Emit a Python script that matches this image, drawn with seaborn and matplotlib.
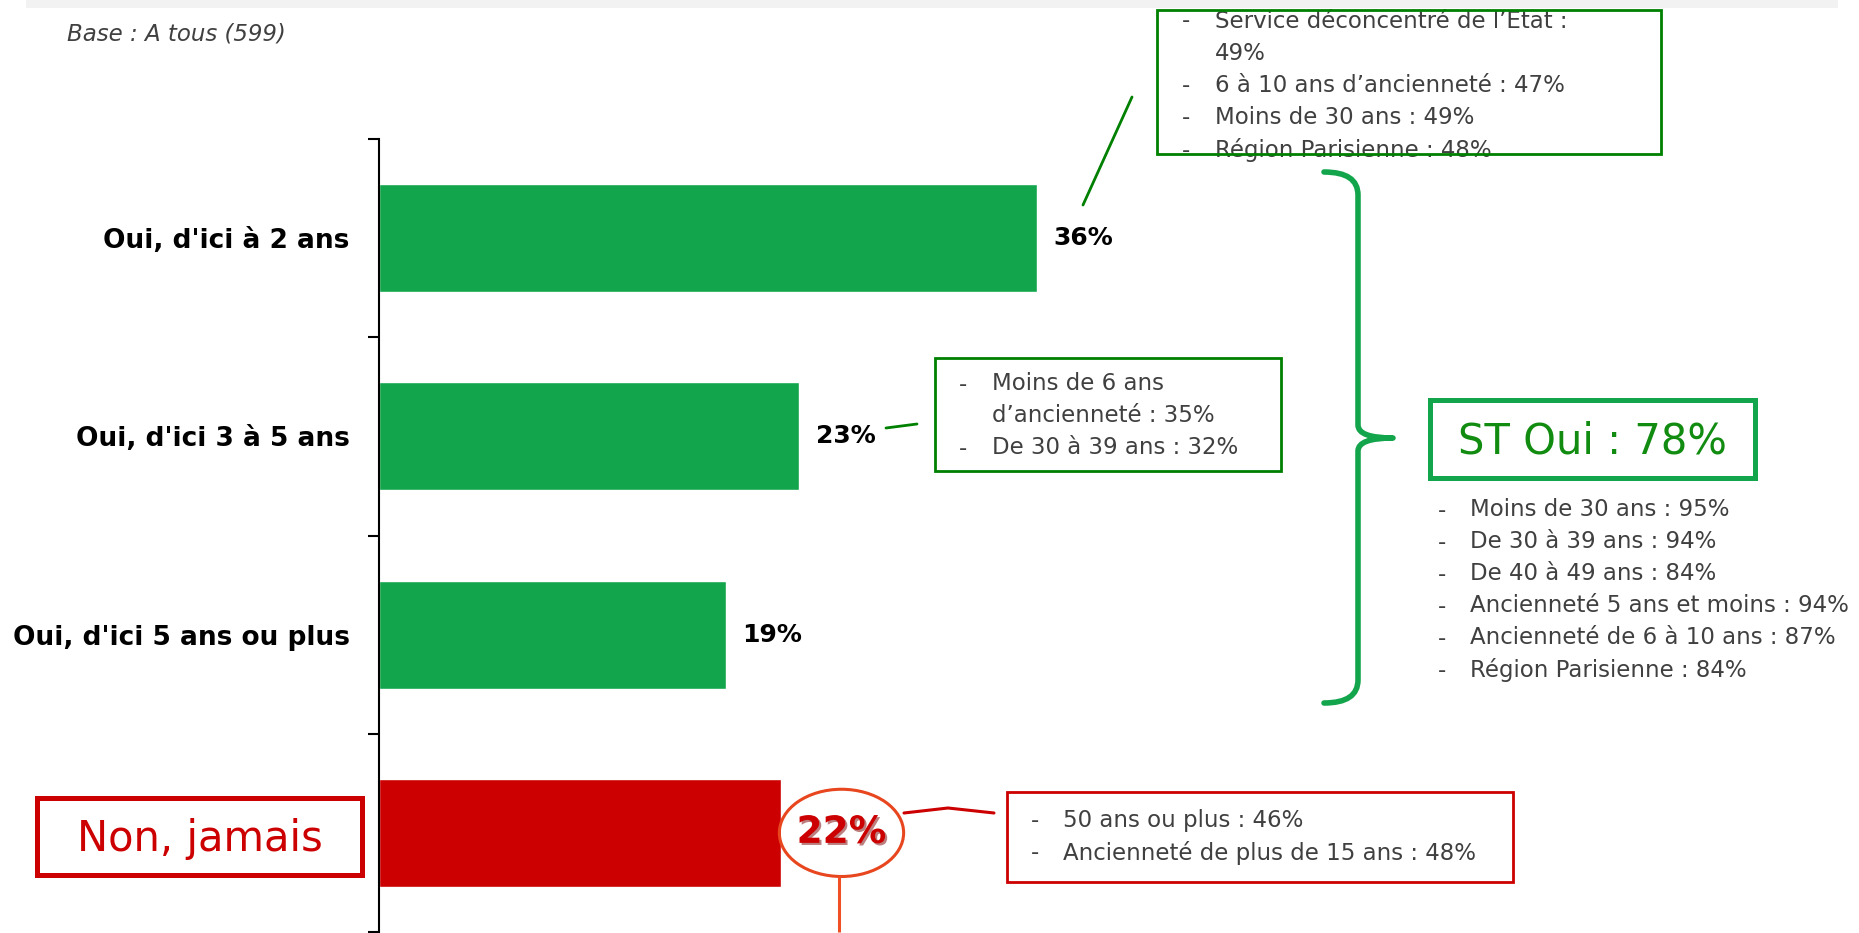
import matplotlib
matplotlib.use("Agg")
import matplotlib.pyplot as plt
import matplotlib.patheffects as pe
from matplotlib.patches import Rectangle, Ellipse, PathPatch
from matplotlib.path import Path
import seaborn as sns

# --- data ---
categories = ["Oui, d'ici à 2 ans", "Oui, d'ici 3 à 5 ans", "Oui, d'ici 5 ans ou plus", "Non, jamais"]
values = [36, 23, 19, 22]
bar_colors = ["#13a54b", "#13a54b", "#13a54b", "#cc0000"]

base_text = "Base : A tous (599)"
st_oui_text = "ST Oui : 78%"

# (text, starts with a dash)
notes_2ans = [("Service déconcentré de l’Etat :", True), ("49%", False),
              ("6 à 10 ans d’ancienneté : 47%", True), ("Moins de 30 ans : 49%", True),
              ("Région Parisienne : 48%", True)]
notes_3a5 = [("Moins de 6 ans", True), ("d’ancienneté : 35%", False), ("De 30 à 39 ans : 32%", True)]
notes_st_oui = [("Moins de 30 ans : 95%", True), ("De 30 à 39 ans : 94%", True),
                ("De 40 à 49 ans : 84%", True), ("Ancienneté 5 ans et moins : 94%", True),
                ("Ancienneté de 6 à 10 ans : 87%", True), ("Région Parisienne : 84%", True)]
notes_jamais = [("50 ans ou plus : 46%", True), ("Ancienneté de plus de 15 ans : 48%", True)]

# --- style ---
sns.set_style("white")
plt.rcParams['font.family'] = ['DejaVu Sans']

W, H = 1859, 933
fig = plt.figure(figsize=(W / 100, H / 100), dpi=100)

GREEN = "#13a54b"
DARK_GREEN = "#008000"
RED = "#cc0000"
GREY_TXT = "#404040"

px_per_pct = 18.28
ax_left = 379
ax = fig.add_axes([ax_left / W, 1 / H, 1 - ax_left / W, (932 - 139) / H])

sns.barplot(x=values, y=categories, hue=categories, palette=bar_colors, legend=False,
            orient="h", width=0.545, saturation=1, ax=ax)

ax.set_xlim(0, (W - ax_left) / px_per_pct)
ax.set_ylim(3.5, -0.5)
ax.set_xlabel("")
ax.set_ylabel("")
ax.set_xticks([])
ax.set_yticks(range(len(categories)))
ax.set_yticklabels(categories[:3] + [""], fontsize=19, fontweight="bold", color="black")
ax.set_yticks([-0.5, 0.5, 1.5, 2.5, 3.5], minor=True)
ax.tick_params(axis="y", which="major", left=True, length=0, pad=21)
ax.tick_params(axis="y", which="minor", left=True, length=8, width=1.5, color="black",
               direction="out")
for s in ["top", "right", "bottom"]:
    ax.spines[s].set_visible(False)
ax.spines["left"].set_color("black")
ax.spines["left"].set_linewidth(1.5)
ax.patch.set_alpha(0)

# value labels
for i, v in enumerate(values):
    if i < 3:
        ax.text(v + 0.88, i, f"{v}%", ha="left", va="center", fontsize=18,
                fontweight="bold", color="black")
    else:
        cx = v + 3.3
        ax.text(cx, i, f"{v}%", ha="center", va="center", fontsize=27, fontweight="bold",
                color=RED, path_effects=[pe.SimplePatchShadow(offset=(1.5, -1.5),
                                                              shadow_rgbFace="#7a0000", alpha=0.5),
                                         pe.Normal()])
        ax.add_patch(Ellipse((cx, i), 6.8, 0.44, fill=False, edgecolor="#e8461e", lw=2.2))
        ax.plot([cx - 0.15, cx - 0.15], [i + 0.22, 3.5], color="#f04e23", lw=2.2,
                solid_capstyle="butt", clip_on=False)

# --- overlay in pixel coordinates for the annotation boxes ---
ov = fig.add_axes([0, 0, 1, 1], zorder=3)
ov.set_xlim(0, W)
ov.set_ylim(H, 0)
ov.axis("off")

# grey strip at the top
ov.add_patch(Rectangle((26, 0), 1812, 8, facecolor="#f2f2f2", edgecolor="none", zorder=10))

ov.text(67, 34, base_text, fontsize=16.5, style="italic", color=GREY_TXT,
        ha="left", va="center")


def bullet_list(items, x_dash, x_text, y0, step, size=16.5):
    for k, (txt, dash) in enumerate(items):
        y = y0 + k * step
        if dash:
            ov.text(x_dash, y, "-", fontsize=size, color=GREY_TXT, ha="left", va="center")
        ov.text(x_text, y, txt, fontsize=size, color=GREY_TXT, ha="left", va="center")


# top box (36%)
bullet_list(notes_2ans, 1182, 1215, 21, 32.3)
ov.add_patch(Rectangle((1157, 10), 504, 144, fill=False, edgecolor=DARK_GREEN, lw=2, zorder=5))
ov.plot([1083, 1132], [205, 97], color=DARK_GREEN, lw=2)

# middle box (23%)
bullet_list(notes_3a5, 959, 992, 384, 32)
ov.add_patch(Rectangle((935, 358), 346, 113, fill=False, edgecolor=DARK_GREEN, lw=2))
ov.plot([886, 917], [428, 424], color=DARK_GREEN, lw=2)

# curly brace for ST Oui
verts = [(1324, 172), (1358, 172), (1358, 195), (1358, 425), (1358, 438), (1393, 438),
         (1358, 438), (1358, 451), (1358, 680), (1358, 703), (1324, 703)]
codes = [Path.MOVETO, Path.CURVE3, Path.CURVE3, Path.LINETO, Path.CURVE3, Path.CURVE3,
         Path.CURVE3, Path.CURVE3, Path.LINETO, Path.CURVE3, Path.CURVE3]
ov.add_patch(PathPatch(Path(verts, codes), fill=False, edgecolor=GREEN, lw=4,
                       capstyle="round", joinstyle="round"))

# ST Oui box
ov.add_patch(Rectangle((1430, 400), 325, 78, fill=False, edgecolor=GREEN, lw=3.6))
ov.text(1592, 442, st_oui_text, fontsize=30, color="#118c11", ha="center", va="center")
bullet_list(notes_st_oui, 1438, 1470, 510, 32)

# Non, jamais box
ov.add_patch(Rectangle((37, 798), 325, 77, fill=False, edgecolor=RED, lw=3.6))
ov.text(200, 839, categories[3], fontsize=30, color=RED, ha="center", va="center")

# 22% call-out box
ov.plot([904, 948, 994], [813, 808, 813], color=RED, lw=2.2)
ov.add_patch(Rectangle((1007, 792), 506, 90, fill=False, edgecolor=RED, lw=2))
bullet_list(notes_jamais, 1031, 1063, 821, 32)

fig.savefig("out.png", dpi=100)
